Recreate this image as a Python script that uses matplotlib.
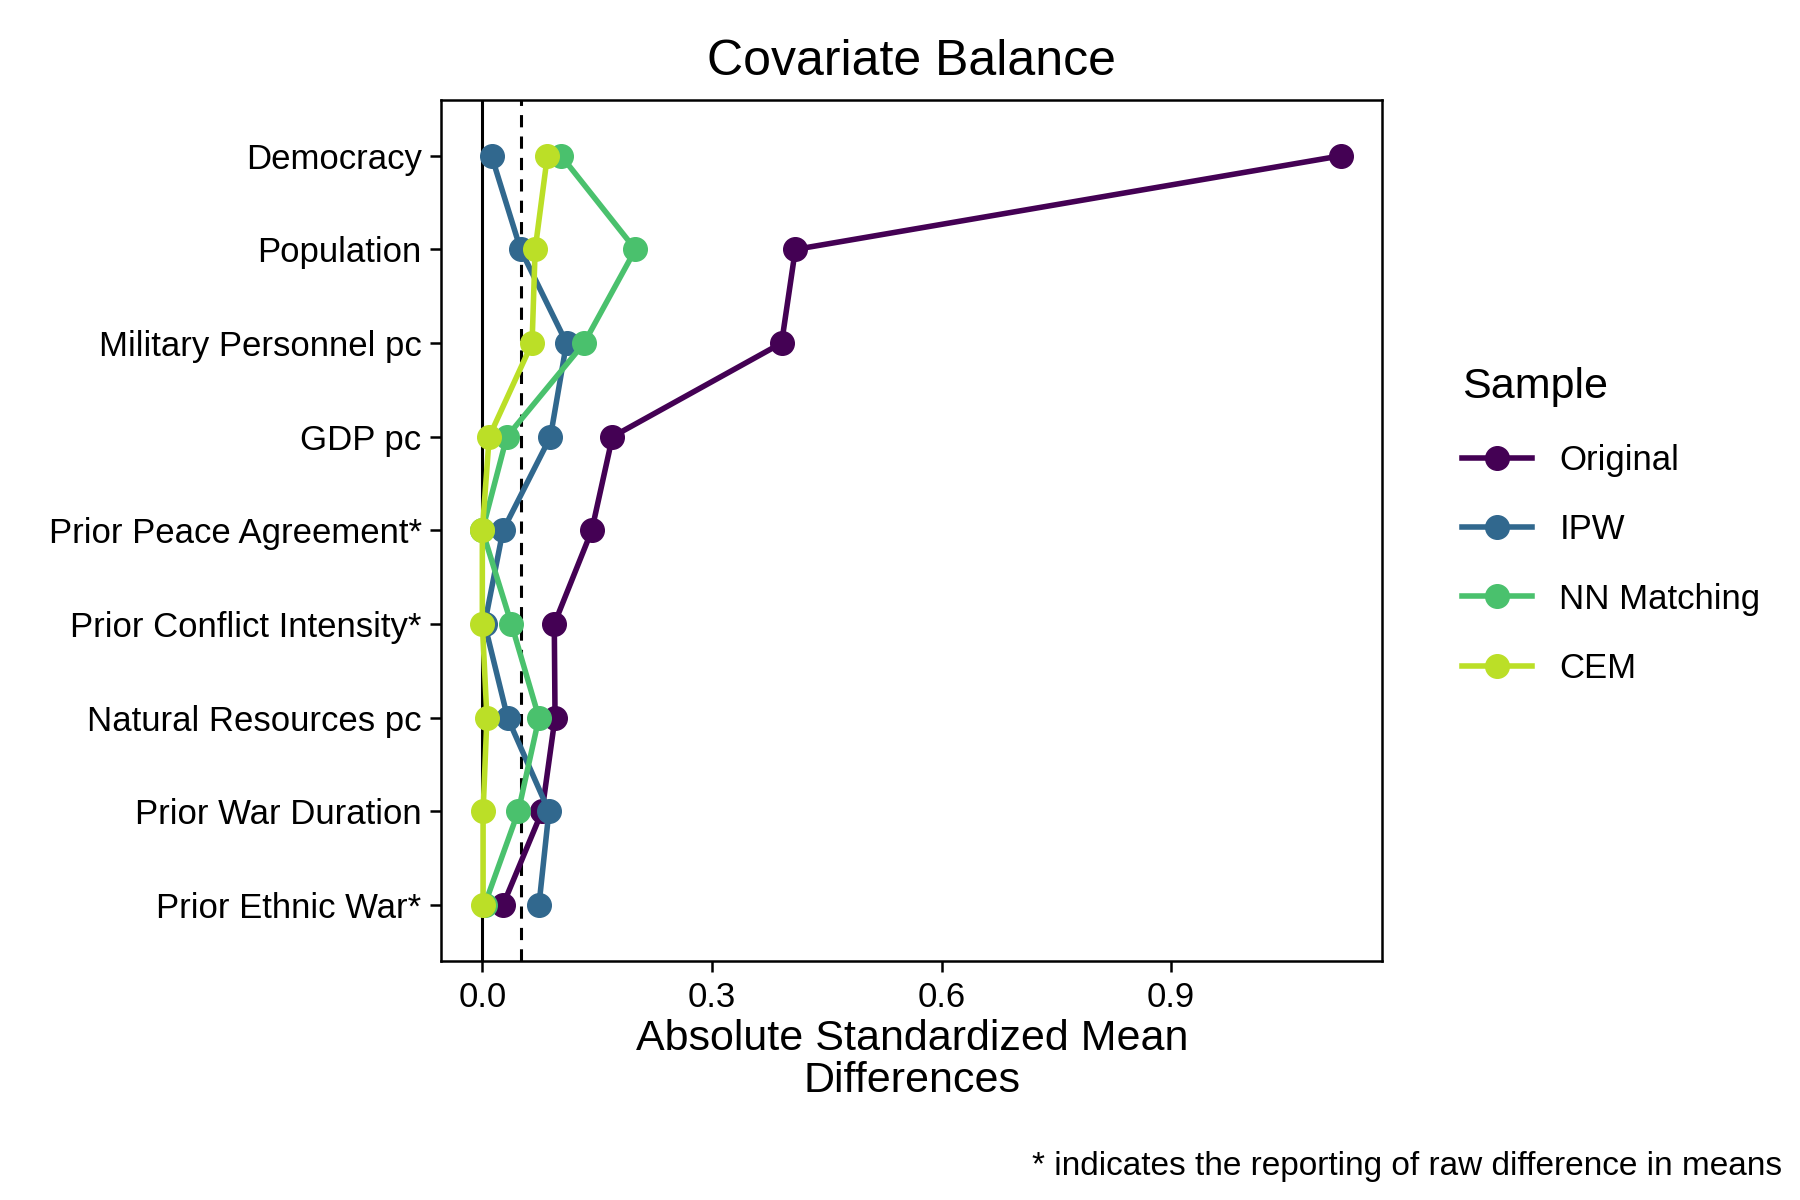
import matplotlib
matplotlib.use("Agg")
import matplotlib.pyplot as plt
from matplotlib.lines import Line2D

plt.rcParams['font.family'] = ['Liberation Sans', 'DejaVu Sans']

covariates = ["Democracy", "Population", "Military Personnel pc", "GDP pc",
              "Prior Peace Agreement*", "Prior Conflict Intensity*",
              "Natural Resources pc", "Prior War Duration", "Prior Ethnic War*"]
samples = ["Original", "IPW", "NN Matching", "CEM"]
original = [1.122, 0.409, 0.391, 0.170, 0.143, 0.094, 0.095, 0.078, 0.027]
ipw      = [0.012, 0.050, 0.110, 0.089, 0.027, 0.003, 0.033, 0.087, 0.074]
nn       = [0.103, 0.200, 0.133, 0.032, 0.000, 0.038, 0.074, 0.047, 0.003]
cem      = [0.085, 0.069, 0.065, 0.009, 0.000, 0.000, 0.006, 0.001, 0.001]
colors = ["#440154", "#31688E", "#4AC16D", "#BBDF27"]

fig = plt.figure(figsize=(18, 12), dpi=100)
ax = fig.add_axes([0.245, 0.199, 0.523, 0.718])
ypos = list(range(len(covariates)))[::-1]
ax.axvline(0, color="black", lw=2.2, zorder=1)
ax.axvline(0.05, color="black", lw=2.2, ls=(0, (4, 3)), zorder=1)
handles = []
for vals, c, name in zip([original, ipw, nn, cem], colors, samples):
    ax.plot(vals, ypos, color=c, lw=4, marker="o", ms=17, zorder=3)
    handles.append(Line2D([], [], color=c, lw=4, marker="o", ms=17, label=name))

ax.set_xlim(-0.054, 1.176)
ax.set_ylim(-0.6, 8.6)
ax.set_yticks(ypos)
ax.set_yticklabels(covariates)
ax.set_xticks([0, 0.3, 0.6, 0.9])
ax.set_xticklabels(["0.0", "0.3", "0.6", "0.9"])
ax.tick_params(labelsize=25, length=8, width=1.8, colors="black", pad=6)
for s in ax.spines.values():
    s.set_linewidth(1.8)
ax.set_xlabel("Absolute Standardized Mean\nDifferences", fontsize=31, linespacing=1.05)
ax.set_title("Covariate Balance", fontsize=36, pad=18)

leg = fig.legend(handles=handles, title="Sample", loc="upper left",
                 bbox_to_anchor=(0.795, 0.72), frameon=False, fontsize=25,
                 title_fontsize=31, handlelength=2.0, labelspacing=1.05)
leg._legend_box.align = "left"

fig.text(0.99, 0.015, "* indicates the reporting of raw difference in means",
         ha="right", va="bottom", fontsize=24)
fig.savefig("out.png", dpi=100)
